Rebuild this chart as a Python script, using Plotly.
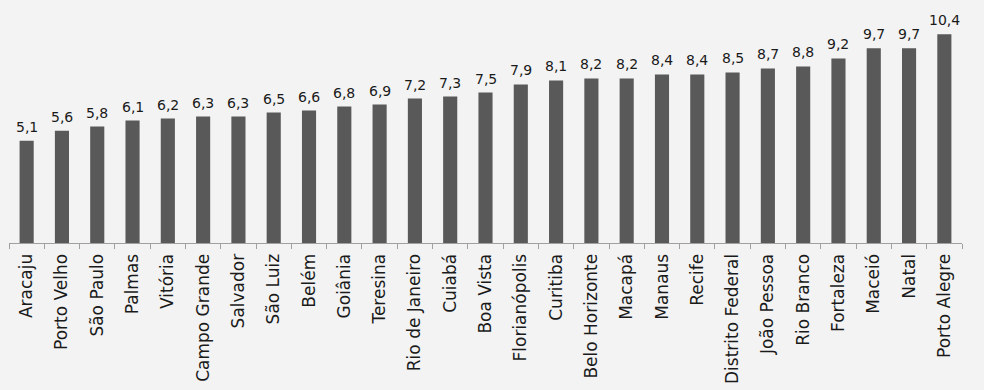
import plotly.graph_objects as go

cities = ["Aracaju", "Porto Velho", "São Paulo", "Palmas", "Vitória", "Campo Grande",
          "Salvador", "São Luiz", "Belém", "Goiânia", "Teresina", "Rio de Janeiro",
          "Cuiabá", "Boa Vista", "Florianópolis", "Curitiba", "Belo Horizonte", "Macapá",
          "Manaus", "Recife", "Distrito Federal", "João Pessoa", "Rio Branco", "Fortaleza",
          "Maceió", "Natal", "Porto Alegre"]
values = [5.1, 5.6, 5.8, 6.1, 6.2, 6.3, 6.3, 6.5, 6.6, 6.8, 6.9, 7.2, 7.3, 7.5, 7.9,
          8.1, 8.2, 8.2, 8.4, 8.4, 8.5, 8.7, 8.8, 9.2, 9.7, 9.7, 10.4]

fig = go.Figure(go.Bar(
    x=cities, y=values,
    marker=dict(color="#595959", line=dict(width=0)),
    cliponaxis=False,
))

for c, v in zip(cities, values):
    fig.add_annotation(
        x=c, y=v, text=f"{v:.1f}".replace(".", ","), showarrow=False,
        yanchor="bottom", yshift=4,
        font=dict(family="DejaVu Sans", size=14, color="#1a1a1a"),
    )

fig.update_layout(
    width=984, height=390,
    margin=dict(l=9, r=22, t=0, b=147),
    paper_bgcolor="#f3f3f3", plot_bgcolor="#f3f3f3",
    bargap=0.6,
    showlegend=False,
    font=dict(family="DejaVu Sans", color="#1a1a1a"),
)
fig.update_xaxes(
    tickangle=-90, tickson="boundaries", ticks="outside", ticklen=5,
    tickcolor="#a0a0a0", showline=True, linecolor="#a0a0a0", linewidth=1,
    ticklabelstandoff=3,
    tickfont=dict(family="DejaVu Sans", size=17, color="#1a1a1a"), showgrid=False,
)
fig.update_yaxes(range=[0, 12.11], visible=False, showgrid=False)

fig.write_html("out.html")
